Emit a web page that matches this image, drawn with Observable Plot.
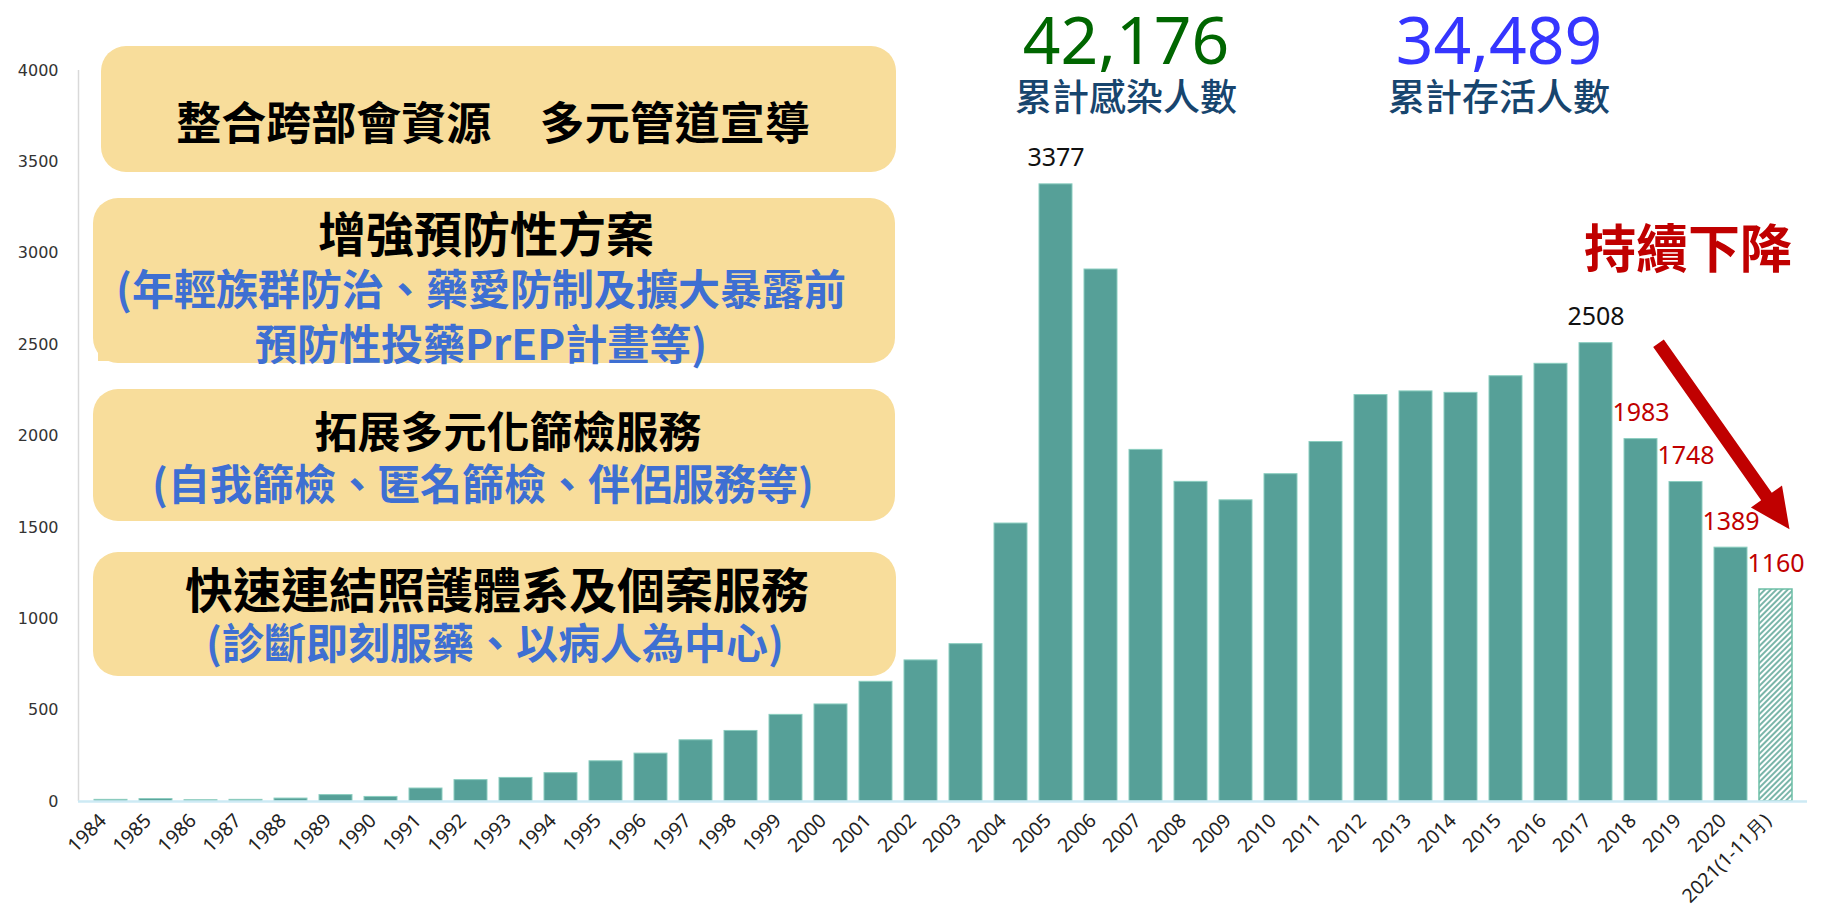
<!DOCTYPE html>
<html>
<head>
<meta charset="utf-8">
<script src="https://cdn.jsdelivr.net/npm/d3@7"></script>
<script src="https://cdn.jsdelivr.net/npm/@observablehq/plot@0.6"></script>
<style>
  body { margin: 0; background: #fff; }
  #chart { width: 1822px; height: 912px; }
</style>
</head>
<body>
<div id="chart"></div>
<script>
// ---- data ----
const years = ["1984","1985","1986","1987","1988","1989","1990","1991","1992","1993",
  "1994","1995","1996","1997","1998","1999","2000","2001","2002","2003",
  "2004","2005","2006","2007","2008","2009","2010","2011","2012","2013",
  "2014","2015","2016","2017","2018","2019","2020","2021(1-11月)"];
const cases = [9,13,7,9,16,35,25,71,117,129,
  155,220,262,335,386,474,531,655,772,861,
  1521,3377,2911,1924,1749,1648,1791,1967,2224,2244,
  2236,2327,2395,2508,1983,1748,1389,1160];
const yTicks = [0,500,1000,1500,2000,2500,3000,3500,4000];
const partialYear = "2021(1-11月)";
const blackLabelYears = ["2005","2017"];
const redLabelYears = ["2018","2019","2020","2021(1-11月)"];
const totalInfected = "42,176";
const totalInfectedLabel = "累計感染人數";
const totalLiving = "34,489";
const totalLivingLabel = "累計存活人數";
const trendText = "持續下降";
const arrowFrom = {year: "2018", value: 2505};
const arrowTo = {year: "2021(1-11月)", value: 1487};
const boxTexts = [
  [{t: "整合跨部會資源  多元管道宣導", kind: "main"}],
  [{t: "增強預防性方案", kind: "main"}, {t: "(年輕族群防治、藥愛防制及擴大暴露前", kind: "sub"}, {t: "預防性投藥PrEP計畫等)", kind: "sub"}],
  [{t: "拓展多元化篩檢服務", kind: "main"}, {t: "(自我篩檢、匿名篩檢、伴侶服務等)", kind: "sub"}],
  [{t: "快速連結照護體系及個案服務", kind: "main"}, {t: "(診斷即刻服藥、以病人為中心)", kind: "sub"}]
];

// ---- layout/styles (annotation geometry) ----
const boxGeom = [
  {x: 101, y: 46, w: 795, h: 126, lines: [{x: 493, y: 120, size: 45}]},
  {x: 93, y: 198, w: 802, h: 165, lines: [{x: 486, y: 231, size: 48}, {x: 481, y: 286, size: 42}, {x: 481, y: 341, size: 42}]},
  {x: 93, y: 389, w: 802, h: 132, lines: [{x: 508, y: 429, size: 43}, {x: 483, y: 481, size: 42}]},
  {x: 93, y: 552, w: 803, h: 124, lines: [{x: 497, y: 587, size: 48}, {x: 495, y: 640, size: 42}]}
];

const data = years.map((y, i) => ({year: y, value: cases[i]}));
const full = data.filter(d => d.year !== partialYear);
const partial = data.filter(d => d.year === partialYear);
const blackLabels = data.filter(d => blackLabelYears.includes(d.year));
const redLabels = data.filter(d => redLabelYears.includes(d.year));

const chart = Plot.plot({
  width: 1822,
  height: 912,
  marginLeft: 78,
  marginRight: 15,
  marginTop: 70,
  marginBottom: 111,
  style: {fontFamily: "'Noto Sans', sans-serif", background: "#fff"},
  x: {domain: years, paddingInner: 0.27, paddingOuter: 0.135, label: null},
  y: {domain: [0, 4000], label: null},
  marks: [
    Plot.barY(full, {x: "year", y: "value", fill: "#56a098", stroke: "#8acdbf", strokeWidth: 1}),
    Plot.barY(partial, {x: "year", y: "value", fill: "url(#hatch2021)", stroke: "#6cbfa6", strokeWidth: 1.5}),
    Plot.ruleY([0], {stroke: "#cdeaf4", strokeWidth: 2.5}),
    Plot.axisY({ticks: yTicks, tickFormat: d => String(d), tickSize: 0, tickPadding: 20, fontSize: 16, fontFamily: "DejaVu Sans", color: "#333", label: null}),
    Plot.axisX({tickRotate: -45, tickSize: 0, tickPadding: 16, dx: -8, fontSize: 19.5, color: "#222", label: null}),
    Plot.text(blackLabels, {x: "year", y: "value", text: d => String(d.value), dy: -26, fontSize: 25, fill: "#111"}),
    Plot.text(redLabels, {x: "year", y: "value", text: d => String(d.value), dy: -26, fontSize: 25, fill: "#c00000"})
  ]
});

document.getElementById("chart").appendChild(chart);

const svg = d3.select(chart);
const xs = chart.scale("x"), ys = chart.scale("y");
const cx = v => xs.apply(v) + xs.bandwidth / 2;

// tick fonts
svg.selectAll('g[aria-label="y-axis tick label"]').attr("font-family", "'DejaVu Sans', sans-serif").attr("font-size", 16);
svg.selectAll('g[aria-label="x-axis tick label"]').attr("font-size", 19.5).attr("font-family", "'Noto Sans', sans-serif");

// hatch pattern
const defs = svg.insert("defs", ":first-child");
const pat = defs.append("pattern").attr("id", "hatch2021")
  .attr("patternUnits", "userSpaceOnUse").attr("width", 4).attr("height", 4)
  .attr("patternTransform", "rotate(45)");
pat.append("rect").attr("width", 4).attr("height", 4).attr("fill", "#fff");
pat.append("line").attr("x1", 1).attr("y1", 0).attr("x2", 1).attr("y2", 4)
  .attr("stroke", "#4e9c8c").attr("stroke-width", 1.5);

// y axis line
svg.insert("line", "g").attr("x1", 78.5).attr("x2", 78.5)
  .attr("y1", ys.apply(4000)).attr("y2", ys.apply(0))
  .attr("stroke", "#d9d9d9").attr("stroke-width", 1.5);

const ann = svg.append("g");

// boxes
boxGeom.forEach((b, i) => {
  ann.append("rect").attr("x", b.x).attr("y", b.y).attr("width", b.w).attr("height", b.h)
    .attr("rx", 25).attr("ry", 25).attr("fill", "#f8dd9b");
  if (i === 1) {
    ann.append("rect").attr("x", b.x + 5).attr("y", b.y + b.h - 24).attr("width", 40).attr("height", 22).attr("fill", "#f8dd9b");
  }
  boxTexts[i].forEach((ln, j) => {
    const g = b.lines[j];
    ann.append("text").attr("x", g.x).attr("y", g.y)
      .attr("text-anchor", "middle").attr("dominant-baseline", "central")
      .style("white-space", "pre").style("word-spacing", ln.kind === "main" ? "14px" : "0px")
      .attr("font-family", "'Noto Sans CJK TC', sans-serif").attr("font-weight", 700)
      .attr("font-size", g.size).attr("fill", ln.kind === "main" ? "#000" : "#3e6fd2")
      .text(ln.t);
  });
});

// totals
function stat(x, num, label, color) {
  ann.append("text").attr("x", x).attr("y", 64).attr("text-anchor", "middle")
    .attr("font-family", "'Noto Sans', sans-serif").attr("font-size", 66).attr("fill", color).text(num);
  ann.append("text").attr("x", x).attr("y", 95).attr("text-anchor", "middle").attr("dominant-baseline", "central")
    .attr("font-family", "'Noto Sans CJK TC', sans-serif").attr("font-weight", 500)
    .attr("font-size", 37).attr("fill", "#17456e").text(label);
}
stat(1126, totalInfected, totalInfectedLabel, "#006600");
stat(1499, totalLiving, totalLivingLabel, "#3535ff");

ann.append("text").attr("x", 1688).attr("y", 245).attr("text-anchor", "middle").attr("dominant-baseline", "central")
  .attr("font-family", "'Noto Sans CJK TC', sans-serif").attr("font-weight", 700)
  .attr("font-size", 52).attr("fill", "#c00000").text(trendText);

// arrow
const p0 = [cx(arrowFrom.year) + 18, ys.apply(arrowFrom.value)];
const p1 = [cx(arrowTo.year) + 14, ys.apply(arrowTo.value)];
const dxv = p1[0] - p0[0], dyv = p1[1] - p0[1];
const len = Math.hypot(dxv, dyv);
const u = [dxv / len, dyv / len], n = [-u[1], u[0]];
const headLen = 40, headW = 19, shaftW = 6.5;
const base = [p1[0] - u[0] * headLen, p1[1] - u[1] * headLen];
const pt = (p, k) => [p[0] + n[0] * k, p[1] + n[1] * k];
const poly = [pt(p0, shaftW), pt(base, shaftW), pt(base, headW), p1, pt(base, -headW), pt(base, -shaftW), pt(p0, -shaftW)];
ann.append("polygon").attr("points", poly.map(p => p.join(",")).join(" ")).attr("fill", "#c00000");
</script>
</body>
</html>
